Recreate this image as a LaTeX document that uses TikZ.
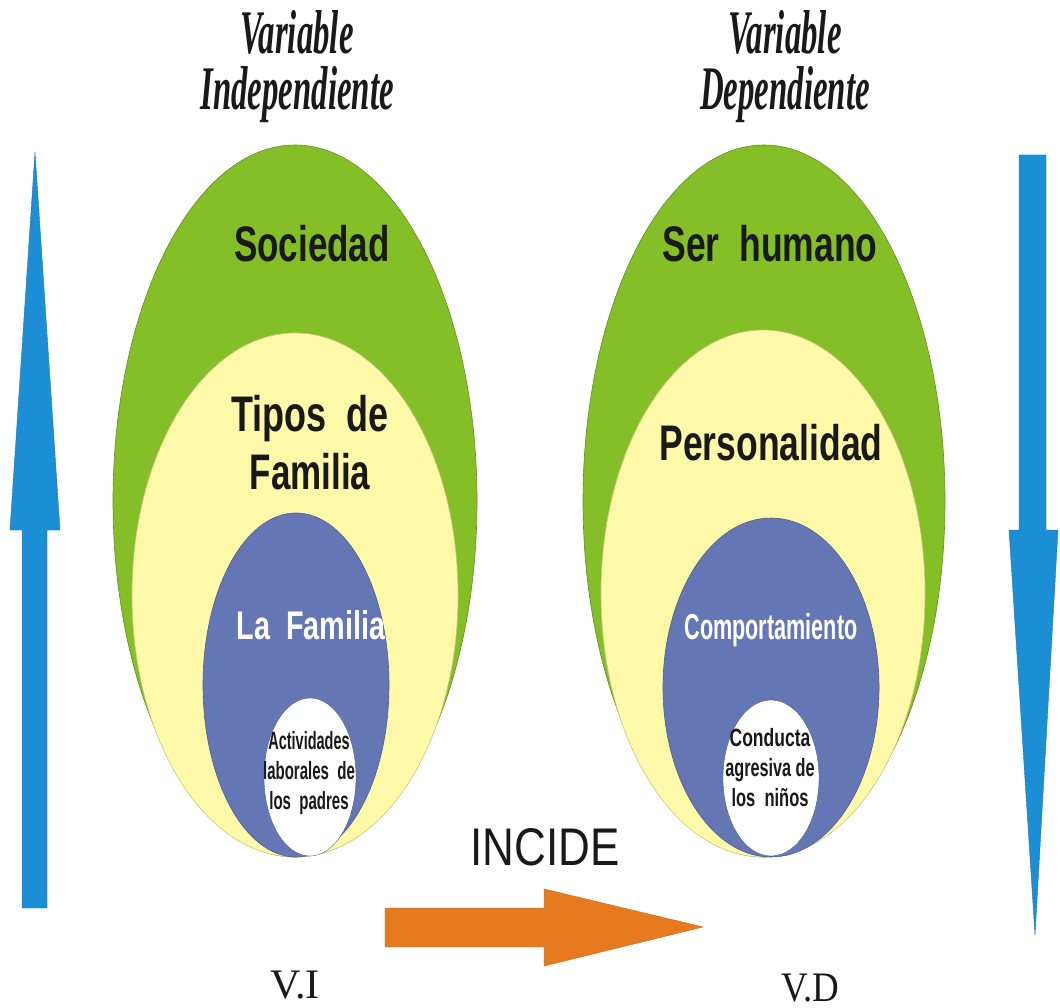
\documentclass[tikz,border=0pt]{standalone}
\usepackage{fontspec}
\usepackage{graphicx}
\setmainfont{Liberation Serif}
\newfontfamily\sansf{Liberation Sans}
\usetikzlibrary{shapes.geometric}
\definecolor{cgreen}{RGB}{132,191,40}
\definecolor{cyellow}{RGB}{254,249,168}
\definecolor{cblue}{RGB}{100,118,180}
\definecolor{cblueArrow}{RGB}{28,142,214}
\definecolor{corange}{RGB}{231,122,30}
\definecolor{ctext}{RGB}{25,25,25}
\newcommand\sqz[2]{\scalebox{#1}[1]{#2}}
\tikzset{
  oval/.style={ellipse, inner sep=0pt, outer sep=0pt, line width=0.6pt},
  greenoval/.style={oval, fill=cgreen, draw=cgreen!75!black},
  yellowoval/.style={oval, fill=cyellow, draw=cyellow!80!black},
  blueoval/.style={oval, fill=cblue, draw=cblue!80!black},
  whiteoval/.style={oval, fill=white, draw=cblue!60!black, line width=0.3pt},
  biglabel/.style={inner sep=0pt, text=ctext, font=\sansf\bfseries\fontsize{50}{58}\selectfont, align=center},
  midlabel/.style={inner sep=0pt, text=white, font=\sansf\bfseries\fontsize{40}{46}\selectfont, align=center},
  smalllabel/.style={inner sep=0pt, text=ctext, font=\sansf\bfseries\fontsize{25}{30}\selectfont, align=center},
  header/.style={inner sep=0pt, text=ctext, font=\bfseries\itshape\fontsize{62}{56}\selectfont, align=center},
  varlabel/.style={inner sep=0pt, text=ctext, font=\fontsize{42}{46}\selectfont},
  bluearrow/.style={fill=cblueArrow, draw=cblueArrow!85!black, line width=0.4pt},
  orangearrow/.style={fill=corange, draw=corange!85!black, line width=0.4pt}
}
\begin{document}
\begin{tikzpicture}[x=1pt,y=-1pt]
\useasboundingbox (0,0) rectangle (1060,1008);
\fill[white] (0,0) rectangle (1060,1008);

% headers
\node[header] (h1) at (297,67) {\sqz{0.53}{Variable}\\\sqz{0.53}{Independiente}};
\node[header] (h2) at (785,67) {\sqz{0.53}{Variable}\\\sqz{0.53}{Dependiente}};

% left nest
\node[greenoval, minimum width=364pt, minimum height=712pt] (g1) at (295,501) {};
\node[yellowoval, minimum width=326pt, minimum height=524pt] (y1) at (295,595) {};
\node[blueoval, minimum width=186pt, minimum height=344pt] (b1) at (296,685) {};
\node[whiteoval, minimum width=92pt, minimum height=158pt] (w1) at (310,777) {};

% right nest
\node[greenoval, minimum width=362pt, minimum height=712pt] (g2) at (764,501) {};
\node[yellowoval, minimum width=324pt, minimum height=527pt] (y2) at (763,593.5) {};
\node[blueoval, minimum width=216pt, minimum height=339pt] (b2) at (771,687.5) {};
\node[whiteoval, minimum width=96pt, minimum height=156pt] (w2) at (771,778) {};

% labels left
\node[biglabel, anchor=base] (t1) at (312,262) {\sqz{0.70}{Sociedad}};
\node[biglabel] (t2) at (310,443) {\sqz{0.72}{Tipos\ \ de}\\\sqz{0.70}{Familia}};
\node[midlabel, anchor=base] (t3) at (311,639) {\sqz{0.72}{La\ \ Familia}};
\node[smalllabel] (t4) at (309,773) {\sqz{0.58}{Actividades}\\\sqz{0.60}{laborales\ \ de}\\\sqz{0.60}{los\ \ padres}};

% labels right
\node[biglabel, anchor=base] (s1) at (770,262) {\sqz{0.71}{Ser\ \ humano}};
\node[biglabel, anchor=base] (s2) at (771,460) {\sqz{0.71}{Personalidad}};
\node[midlabel, anchor=base, font=\sansf\bfseries\fontsize{36}{40}\selectfont] (s3) at (771,639) {\sqz{0.60}{Comportamiento}};
\node[smalllabel] (s4) at (770,768) {\sqz{0.70}{Conducta}\\\sqz{0.65}{agresiva de}\\\sqz{0.66}{los\ \ niños}};

% vertical arrows
\draw[bluearrow] (22,908) -- (22,530) -- (10,530) -- (35,152) -- (60,530) -- (47,530) -- (47,908) -- cycle;
\draw[bluearrow] (1019,155) -- (1046,155) -- (1046,530) -- (1058,530) -- (1035,935) -- (1009,530) -- (1019,530) -- cycle;

% incide arrow
\node[inner sep=0pt, text=ctext, font=\sansf\fontsize{53}{58}\selectfont, anchor=base] (inc) at (545,865) {\sqz{0.83}{INCIDE}};
\draw[orangearrow] (385,908) -- (544,908) -- (544,889) -- (703,927) -- (544,966) -- (544,947) -- (385,947) -- cycle;

% bottom labels
\node[varlabel, anchor=base] (vi) at (295,998) {\sqz{1.0}{V.I}};
\node[varlabel, anchor=base] (vd) at (810,1001) {\sqz{0.88}{V.D}};
\end{tikzpicture}
\end{document}
